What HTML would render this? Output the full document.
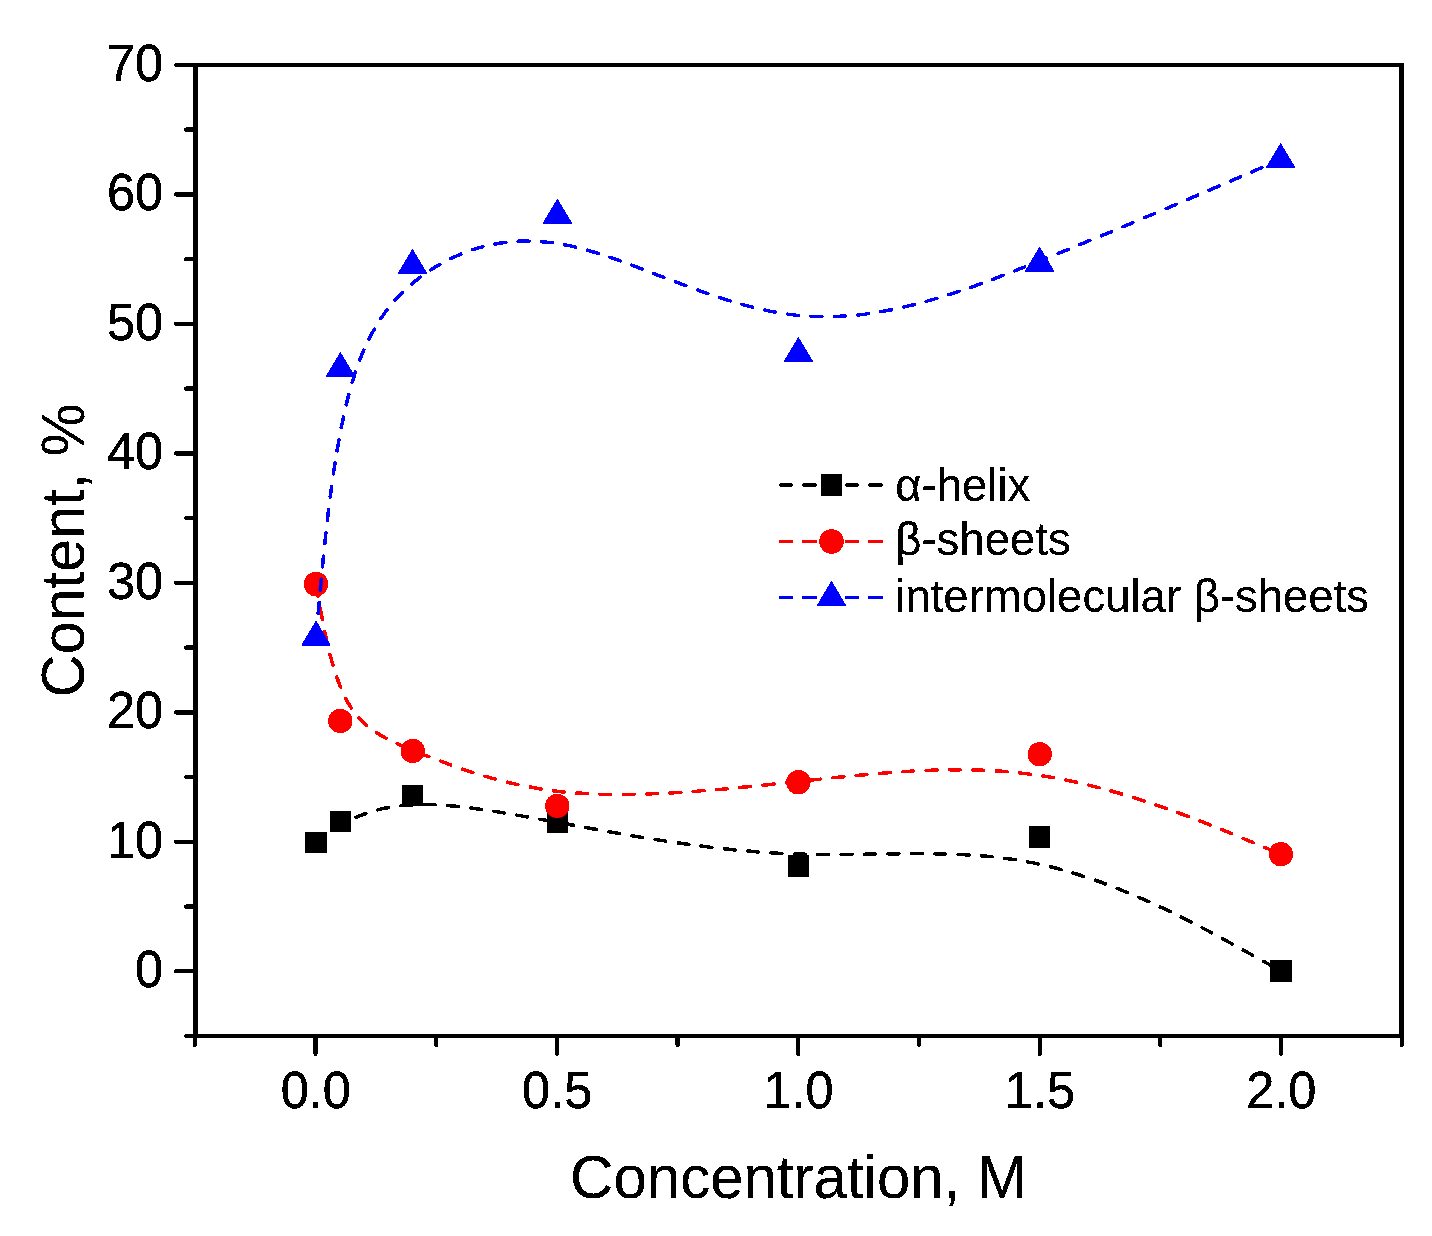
<!DOCTYPE html>
<html lang="en"><head><meta charset="utf-8"><title>Content vs Concentration</title>
<style>html,body{margin:0;padding:0;background:#fff;}body{width:1432px;height:1236px;overflow:hidden;}svg{display:block;}text{font-family:"Liberation Sans",sans-serif;fill:#000;stroke:#000;stroke-width:0.2px;stroke-linejoin:round;}.tk text{stroke-width:0.4px;}</style></head><body>
<svg width="1432" height="1236" viewBox="0 0 1432 1236">
<defs><filter id="hard" x="0" y="0" width="100%" height="100%" filterUnits="userSpaceOnUse" color-interpolation-filters="sRGB"><feComponentTransfer><feFuncA type="discrete" tableValues="0 1"/></feComponentTransfer></filter></defs>
<rect x="0" y="0" width="1432" height="1236" fill="#fff"/>
<g filter="url(#hard)">
<path d="M316.00,842.50C316.00,842.50 316.00,842.50 320.10,839.02C324.20,835.53 332.40,828.57 348.48,820.75C364.57,812.93 388.53,804.27 424.68,804.42C460.83,804.57 509.17,813.53 573.52,825.31C637.87,837.08 718.23,851.67 798.57,854.10C878.90,856.53 959.20,846.82 1039.60,864.27C1120.00,881.73 1200.50,926.37 1240.75,948.68C1281.00,971.00 1281.00,971.00 1281.00,971.00" fill="none" stroke="#000" stroke-width="3.5" stroke-dasharray="11 12.37" stroke-dashoffset="-0.5" stroke-linecap="round"/>
<rect x="305.25" y="831.75" width="21.5" height="21.5" fill="#000"/>
<rect x="329.85" y="810.85" width="21.5" height="21.5" fill="#000"/>
<rect x="401.75" y="784.85" width="21.5" height="21.5" fill="#000"/>
<rect x="546.75" y="811.75" width="21.5" height="21.5" fill="#000"/>
<rect x="787.85" y="855.50" width="21.5" height="21.5" fill="#000"/>
<rect x="1028.75" y="826.35" width="21.5" height="21.5" fill="#000"/>
<rect x="1270.25" y="960.25" width="21.5" height="21.5" fill="#000"/>
<path d="M316.00,584.00C316.00,584.00 316.00,584.00 320.04,606.82C324.08,629.63 332.17,675.27 348.29,703.08C364.42,730.90 388.58,740.90 424.75,755.07C460.92,769.23 509.08,787.57 573.36,792.79C637.63,798.02 718.02,790.13 798.43,781.50C878.85,772.87 959.30,763.48 1039.72,775.46C1120.13,787.43 1200.52,820.77 1240.71,837.43C1280.90,854.10 1280.90,854.10 1280.90,854.10" fill="none" stroke="#f00" stroke-width="3.5" stroke-dasharray="11 12.37" stroke-dashoffset="-1.7" stroke-linecap="round"/>
<circle cx="316.00" cy="584.00" r="12.2" fill="#f00"/>
<circle cx="340.25" cy="720.90" r="12.2" fill="#f00"/>
<circle cx="412.75" cy="750.90" r="12.2" fill="#f00"/>
<circle cx="557.25" cy="805.90" r="12.2" fill="#f00"/>
<circle cx="798.40" cy="782.25" r="12.2" fill="#f00"/>
<circle cx="1039.75" cy="754.10" r="12.2" fill="#f00"/>
<circle cx="1280.90" cy="854.10" r="12.2" fill="#f00"/>
<path d="M316.00,637.25C316.00,637.25 316.00,637.25 320.07,592.46C324.13,547.67 332.27,458.08 348.35,396.08C364.43,334.08 388.47,299.67 424.63,274.12C460.80,248.58 509.10,231.92 573.42,246.62C637.73,261.33 718.07,307.42 798.43,315.42C878.80,323.42 959.20,293.33 1039.57,261.00C1119.93,228.67 1200.27,194.08 1240.43,176.79C1280.60,159.50 1280.60,159.50 1280.60,159.50" fill="none" stroke="#00f" stroke-width="3.5" stroke-dasharray="11 12.37" stroke-dashoffset="-0.6" stroke-linecap="round"/>
<polygon points="316.00,620.58 330.90,645.58 301.10,645.58" fill="#00f"/>
<polygon points="340.40,351.83 355.30,376.83 325.50,376.83" fill="#00f"/>
<polygon points="412.50,248.58 427.40,273.58 397.60,273.58" fill="#00f"/>
<polygon points="557.40,198.58 572.30,223.58 542.50,223.58" fill="#00f"/>
<polygon points="798.40,336.83 813.30,361.83 783.50,361.83" fill="#00f"/>
<polygon points="1039.60,246.58 1054.50,271.58 1024.70,271.58" fill="#00f"/>
<polygon points="1280.60,142.83 1295.50,167.83 1265.70,167.83" fill="#00f"/>
<g fill="#000">
<rect x="193" y="63" width="5" height="975"/>
<rect x="1399" y="63" width="5" height="975"/>
<rect x="193" y="63" width="1211" height="4"/>
<rect x="193" y="1034" width="1211" height="4"/>
</g>
<g stroke="#000" stroke-width="4.2" stroke-linecap="round">
<line x1="195" y1="1036.00" x2="186" y2="1036.00"/>
<line x1="195" y1="971.26" x2="176" y2="971.26"/>
<line x1="195" y1="906.53" x2="186" y2="906.53"/>
<line x1="195" y1="841.80" x2="176" y2="841.80"/>
<line x1="195" y1="777.06" x2="186" y2="777.06"/>
<line x1="195" y1="712.33" x2="176" y2="712.33"/>
<line x1="195" y1="647.59" x2="186" y2="647.59"/>
<line x1="195" y1="582.86" x2="176" y2="582.86"/>
<line x1="195" y1="518.12" x2="186" y2="518.12"/>
<line x1="195" y1="453.38" x2="176" y2="453.38"/>
<line x1="195" y1="388.65" x2="186" y2="388.65"/>
<line x1="195" y1="323.92" x2="176" y2="323.92"/>
<line x1="195" y1="259.18" x2="186" y2="259.18"/>
<line x1="195" y1="194.45" x2="176" y2="194.45"/>
<line x1="195" y1="129.71" x2="186" y2="129.71"/>
<line x1="195" y1="64.98" x2="176" y2="64.98"/>
<line x1="194.81" y1="1036" x2="194.81" y2="1045"/>
<line x1="315.50" y1="1036" x2="315.50" y2="1054"/>
<line x1="436.19" y1="1036" x2="436.19" y2="1045"/>
<line x1="556.88" y1="1036" x2="556.88" y2="1054"/>
<line x1="677.56" y1="1036" x2="677.56" y2="1045"/>
<line x1="798.25" y1="1036" x2="798.25" y2="1054"/>
<line x1="918.94" y1="1036" x2="918.94" y2="1045"/>
<line x1="1039.62" y1="1036" x2="1039.62" y2="1054"/>
<line x1="1160.31" y1="1036" x2="1160.31" y2="1045"/>
<line x1="1281.00" y1="1036" x2="1281.00" y2="1054"/>
<line x1="1401.69" y1="1036" x2="1401.69" y2="1045"/>
</g>
<g class="tk" font-size="50.5" text-anchor="end">
<text transform="translate(163.2,987.06) scale(1,1.02)">0</text>
<text transform="translate(163.2,857.60) scale(1,1.02)">10</text>
<text transform="translate(163.2,728.12) scale(1,1.02)">20</text>
<text transform="translate(163.2,598.65) scale(1,1.02)">30</text>
<text transform="translate(163.2,469.19) scale(1,1.02)">40</text>
<text transform="translate(163.2,339.72) scale(1,1.02)">50</text>
<text transform="translate(163.2,210.25) scale(1,1.02)">60</text>
<text transform="translate(163.2,80.78) scale(1,1.02)">70</text>
</g>
<g class="tk" font-size="50.5" text-anchor="middle">
<text transform="translate(315.80,1107.7) scale(1,1.02)">0.0</text>
<text transform="translate(557.17,1107.7) scale(1,1.02)">0.5</text>
<text transform="translate(798.55,1107.7) scale(1,1.02)">1.0</text>
<text transform="translate(1039.92,1107.7) scale(1,1.02)">1.5</text>
<text transform="translate(1281.30,1107.7) scale(1,1.02)">2.0</text>
</g>
<text transform="translate(798.5,1198.2) scale(1,1.025)" font-size="60.0" text-anchor="middle">Concentration, M</text>
<text transform="translate(84.2,550.4) rotate(-90) scale(1,1.025)" font-size="59.4" text-anchor="middle">Content, %</text>
<g stroke="#000" stroke-width="3.5" stroke-linecap="round">
<line x1="780.75" y1="485.0" x2="791.25" y2="485.0"/>
<line x1="803.75" y1="485.0" x2="815.25" y2="485.0"/>
<line x1="846.75" y1="485.0" x2="857.25" y2="485.0"/>
<line x1="869.75" y1="485.0" x2="881.25" y2="485.0"/>
</g>
<rect x="820.75" y="474.25" width="21.5" height="21.5" fill="#000"/>
<text x="895.3" y="500.8" font-size="45.5">α-helix</text>
<g stroke="#f00" stroke-width="3.5" stroke-linecap="round">
<line x1="780.75" y1="541.5" x2="791.25" y2="541.5"/>
<line x1="803.75" y1="541.5" x2="815.25" y2="541.5"/>
<line x1="846.75" y1="541.5" x2="857.25" y2="541.5"/>
<line x1="869.75" y1="541.5" x2="881.25" y2="541.5"/>
</g>
<circle cx="831.50" cy="541.50" r="12.2" fill="#f00"/>
<text x="895.3" y="555.4" font-size="45.5">β-sheets</text>
<g stroke="#00f" stroke-width="3.5" stroke-linecap="round">
<line x1="780.75" y1="597.5" x2="791.25" y2="597.5"/>
<line x1="803.75" y1="597.5" x2="815.25" y2="597.5"/>
<line x1="846.75" y1="597.5" x2="857.25" y2="597.5"/>
<line x1="869.75" y1="597.5" x2="881.25" y2="597.5"/>
</g>
<polygon points="831.50,580.83 846.40,605.83 816.60,605.83" fill="#00f"/>
<text x="895.3" y="612.3" font-size="45.5">intermolecular β-sheets</text>
</g>
</svg></body></html>
